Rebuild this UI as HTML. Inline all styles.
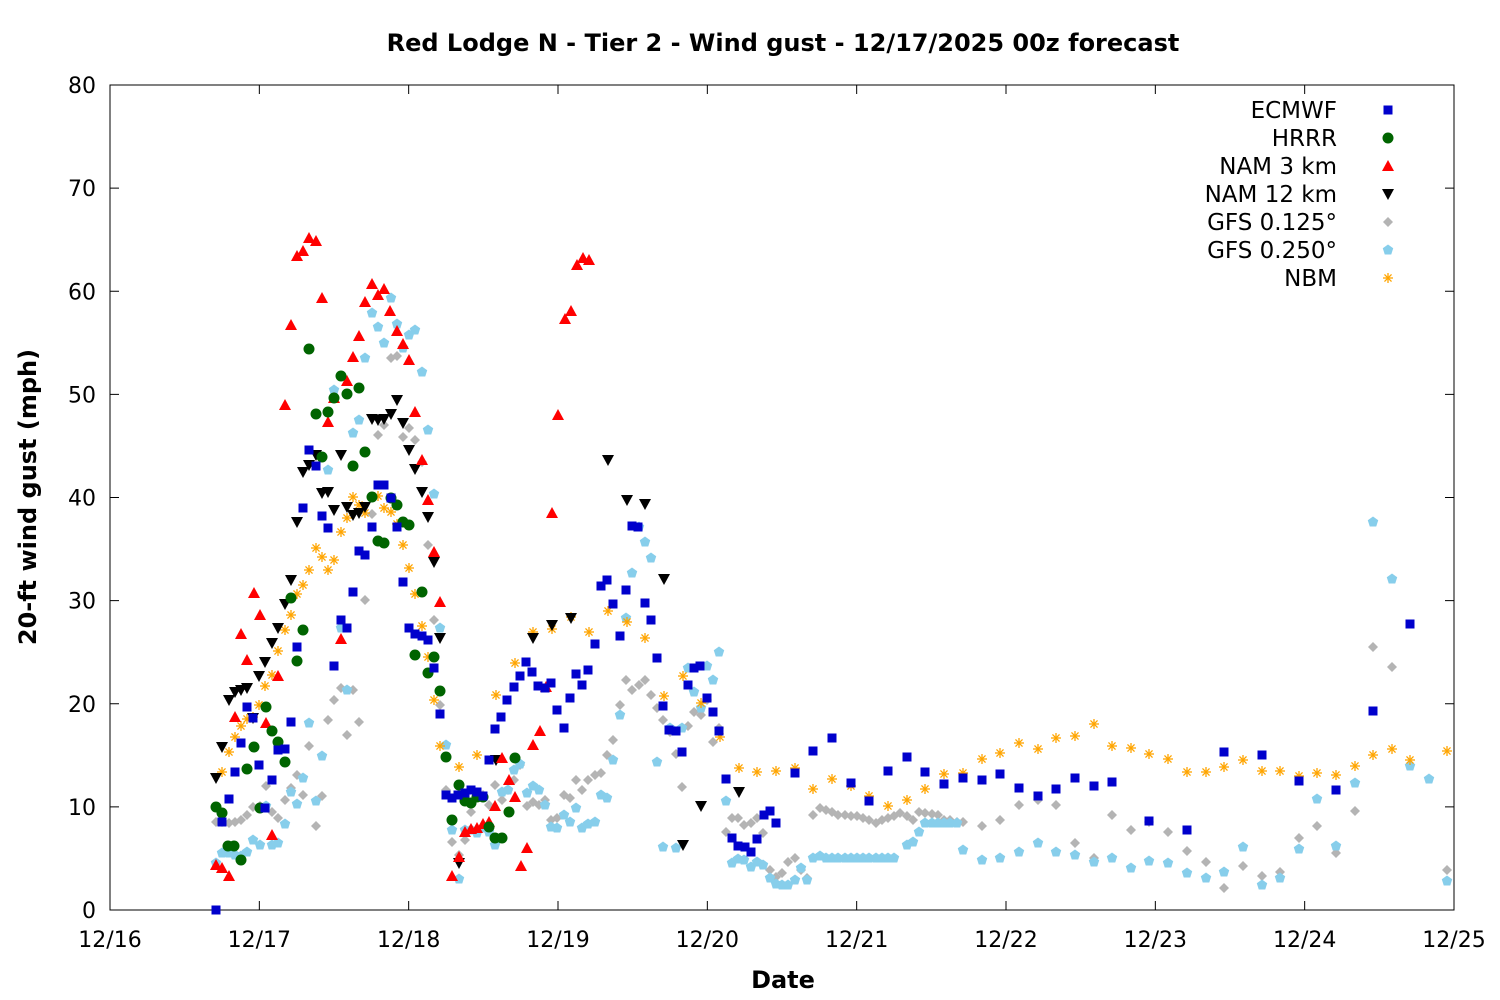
<!DOCTYPE html>
<html><head><meta charset="utf-8"><style>
html,body{margin:0;padding:0;background:#fff}
svg{display:block;font-family:"DejaVu Sans","Liberation Sans",sans-serif}
</style></head><body>
<svg id="s" width="1500" height="1000" xmlns="http://www.w3.org/2000/svg">
<rect width="1500" height="1000" fill="#fff"/>
<text x="783" y="51" text-anchor="middle" font-size="24" font-weight="bold">Red Lodge N - Tier 2 - Wind gust - 12/17/2025 00z forecast</text>
<text x="783" y="988" text-anchor="middle" font-size="24" font-weight="bold">Date</text>
<text transform="translate(36,497) rotate(-90)" text-anchor="middle" font-size="24" font-weight="bold">20-ft wind gust (mph)</text>
<g id="axes" stroke="#000" stroke-width="1" fill="none"></g>
<g id="lab" font-size="22"></g>
<g id="pts"></g>
<g id="leg" font-size="23" text-anchor="end">
<text x="1337" y="118">ECMWF</text>
<text x="1337" y="146">HRRR</text>
<text x="1337" y="174">NAM 3 km</text>
<text x="1337" y="202">NAM 12 km</text>
<text x="1337" y="230">GFS 0.125°</text>
<text x="1337" y="258">GFS 0.250°</text>
<text x="1337" y="286">NBM</text>
</g>
</svg>
<script>
var NS="http://www.w3.org/2000/svg";
function el(p,t,a){var e=document.createElementNS(NS,t);for(var k in a)e.setAttribute(k,a[k]);p.appendChild(e);return e;}
var ax=document.getElementById('axes'),lab=document.getElementById('lab'),P=document.getElementById('pts');
var L=110,R=1454,T=85,B=910;
el(ax,'rect',{x:L,y:T,width:R-L,height:B-T});
for(var v=0;v<=80;v+=10){var y=B-v*825/80;el(ax,'line',{x1:L,y1:y,x2:L+9,y2:y});el(ax,'line',{x1:R,y1:y,x2:R-9,y2:y});
var t=el(lab,'text',{x:96,y:y+8,'text-anchor':'end'});t.textContent=v;}
var d=['12/16','12/17','12/18','12/19','12/20','12/21','12/22','12/23','12/24','12/25'];
for(var i=0;i<10;i++){var x=L+i*(R-L)/9;el(ax,'line',{x1:x,y1:B,x2:x,y2:B-9});el(ax,'line',{x1:x,y1:T,x2:x,y2:T+9});
var t=el(lab,'text',{x:x,y:947,'text-anchor':'middle'});t.textContent=d[i];}
function mk(x,y,k){
 if(k==0)el(P,'rect',{x:x-4.5,y:y-4.5,width:9,height:9,fill:'#0000cc'});
 else if(k==1)el(P,'circle',{cx:x,cy:y,r:5.5,fill:'#006400'});
 else if(k==2)el(P,'polygon',{points:(x)+','+(y-6)+' '+(x+6)+','+(y+5)+' '+(x-6)+','+(y+5),fill:'#ff0000'});
 else if(k==3)el(P,'polygon',{points:(x)+','+(y+6)+' '+(x+6)+','+(y-5)+' '+(x-6)+','+(y-5),fill:'#000'});
 else if(k==4)el(P,'polygon',{points:(x)+','+(y-5)+' '+(x+5)+','+y+' '+x+','+(y+5)+' '+(x-5)+','+y,fill:'#b4b4b4'});
 else if(k==5){var s='';for(var j=0;j<5;j++){var a=-Math.PI/2+j*2*Math.PI/5;s+=(x+5.5*Math.cos(a))+','+(y+5.5*Math.sin(a))+' ';}el(P,'polygon',{points:s,fill:'#87ceeb'});}
 else{for(var j=0;j<4;j++){var a=j*Math.PI/4;el(P,'line',{x1:x-5*Math.cos(a),y1:y-5*Math.sin(a),x2:x+5*Math.cos(a),y2:y+5*Math.sin(a),stroke:'#ffa500','stroke-width':1.3});}}
}
function S(k,a){for(var i=0;i<a.length;i+=2)mk(a[i],a[i+1],k);}
var gray=[216,822,222,822,229,823,235,822,241,820,247,815,253,807,260,806,266,786,272,812,278,818,285,800,291,788,297,775,303,795,309,746,316,826,322,796,328,720,334,700,341,688,347,735,353,690,359,722,365,600,372,514,378,435,384,425,391,358,397,356,403,437,409,428,415,440,422,462,428,545,434,620,440,705,446,790,452,842,459,855,465,840,471,812,477,830,483,795,489,805,495,785,502,800,508,790,514,780,520,765,527,806,533,802,539,805,545,800,551,820,557,818,564,795,570,798,576,780,582,790,588,780,595,775,601,773,607,755,613,740,620,705,626,680,632,690,639,685,645,680,651,695,657,708,663,720,670,732,676,754,682,787,688,726,694,712,701,715,707,700,713,742,719,728,726,832,732,818,738,818,744,825,751,823,757,818,763,833,770,870,776,877,782,873,788,862,795,858,801,870,807,878,813,815,820,808,826,810,832,812,838,815,845,815,851,816,857,816,863,818,869,820,876,823,882,820,888,818,894,816,900,813,907,816,913,820,919,812,925,813,932,814,938,815,944,820,950,820,957,822,963,822,982,826,1000,820,1019,805,1038,800,1056,805,1075,843,1094,858,1112,815,1131,830,1149,822,1168,832,1187,851,1206,862,1224,888,1243,866,1262,876,1280,872,1299,838,1317,826,1336,853,1355,811,1373,647,1392,667,1410,765,1447,870];
var lb=[216,863,222,853,229,853,235,855,241,856,247,852,253,840,260,845,266,806,272,845,278,843,285,824,291,792,297,804,303,778,309,723,316,801,322,756,328,470,334,390,341,628,347,690,353,433,359,420,365,358,372,313,378,327,384,343,391,298,397,324,403,348,409,335,415,330,422,372,428,430,434,494,440,628,446,745,452,830,459,879,465,830,471,830,477,833,483,828,489,832,495,845,502,792,508,790,514,770,520,764,527,793,533,786,539,790,545,805,551,827,557,828,564,815,570,822,576,808,582,828,588,824,595,822,601,795,607,798,613,760,620,715,626,618,632,573,639,527,645,542,651,558,657,762,663,847,670,728,676,848,682,728,688,668,694,692,701,708,707,666,713,680,719,652,726,801,732,863,738,859,744,860,751,867,757,862,763,865,770,878,776,884,782,885,788,885,795,880,801,868,807,880,813,858,820,856];
for(var x=826;x<=900;x+=6.2)lb.push(Math.round(x),858);
lb=lb.concat([907,845,913,842,919,832,925,823,932,823,938,823,944,823,950,823,957,823,963,850,982,860,1000,858,1019,852,1038,843,1056,852,1075,855,1094,862,1112,858,1131,868,1149,861,1168,863,1187,873,1206,878,1224,872,1243,847,1262,885,1280,878,1299,849,1317,799,1336,846,1355,783,1373,522,1392,579,1410,766,1429,779,1447,881]);
S(4,gray);S(5,lb);
S(6,[222,772,229,752,235,737,241,726,247,719,253,717,259,705,265,686,272,675,278,651,285,630,291,615,297,594,303,585,309,570,316,548,322,557,328,570,334,560,341,532,347,518,353,497,359,505,365,513,372,497,378,496,384,508,391,512,397,524,403,545,409,568,415,594,422,626,428,657,434,700,440,746,459,767,477,755,496,695,515,663,533,632,552,629,571,617,589,632,608,611,627,622,645,638,664,696,683,676,701,703,720,737,739,768,757,772,776,771,795,768,813,789,832,779,851,786,869,796,888,806,907,800,925,789,944,774,963,773,982,759,1000,753,1019,743,1038,749,1056,738,1075,736,1094,724,1112,746,1131,748,1149,754,1168,759,1187,772,1206,772,1224,767,1243,760,1262,771,1280,771,1299,776,1317,773,1336,775,1355,766,1373,755,1392,749,1410,760,1447,751]);
S(3,[216,778,222,747,229,700,235,692,241,690,247,688,253,718,259,676,265,662,272,643,278,628,285,604,291,580,297,522,303,472,309,465,316,455,322,493,328,492,334,510,341,455,347,507,353,515,359,513,365,507,372,419,378,420,384,419,391,414,397,400,403,423,409,450,415,469,422,492,428,517,434,562,440,638,459,863,496,760,533,638,552,625,571,618,608,460,627,500,645,504,664,579,683,845,701,806,739,792]);
S(2,[216,865,222,868,229,876,235,717,241,634,247,660,254,593,260,615,266,723,272,835,278,676,285,405,291,325,297,256,303,251,309,238,316,241,322,298,328,422,334,398,341,639,347,381,353,357,359,336,365,302,372,284,378,295,384,289,390,311,397,331,403,344,409,360,415,412,422,460,428,500,434,552,440,602,452,876,459,857,465,832,471,829,477,828,483,824,489,822,495,806,502,758,509,780,515,797,521,866,527,848,533,745,540,731,546,687,552,513,558,415,565,319,571,311,577,265,583,258,589,260]);
S(1,[216,807,222,813,228,846,234,846,241,860,247,769,254,747,260,808,266,707,272,731,278,742,285,762,291,598,297,661,303,630,309,349,316,414,322,457,328,412,334,398,341,376,347,394,353,466,359,388,365,452,372,497,378,541,384,543,391,498,397,505,403,522,409,525,415,655,422,592,428,673,434,657,440,691,446,757,452,820,459,785,465,801,471,803,477,797,483,797,489,827,495,838,502,838,509,812,515,758]);
S(0,[216,910,222,822,229,799,235,772,241,743,247,707,253,718,259,765,265,808,272,780,278,750,285,749,291,722,297,647,303,508,309,450,316,466,322,516,328,528,334,666,341,620,347,628,353,592,359,551,365,555,372,527,378,485,384,485,391,498,397,527,403,582,409,628,415,634,422,636,428,640,434,668,440,714,446,795,452,798,458,795,465,793,471,790,477,792,483,796,489,760,495,729,501,717,507,700,514,687,520,676,526,662,532,672,538,686,545,688,551,683,557,710,564,728,570,698,576,674,582,685,588,670,595,644,601,586,607,580,613,604,620,636,626,590,632,526,638,527,645,603,651,620,657,658,663,706,669,730,676,731,682,752,688,685,694,668,700,666,707,698,713,712,719,731,726,779,732,838,738,846,745,847,751,852,757,839,764,815,770,811,776,823,795,773,813,751,832,738,851,783,869,801,888,771,907,757,925,772,944,784,963,778,982,780,1000,774,1019,788,1038,796,1056,789,1075,778,1094,786,1112,782,1149,821,1187,830,1224,752,1262,755,1299,781,1336,790,1373,711,1410,624]);
[110,138,166,194,222,250,278].forEach(function(y,i){mk(1388,y,i);});
</script>
</body></html>
